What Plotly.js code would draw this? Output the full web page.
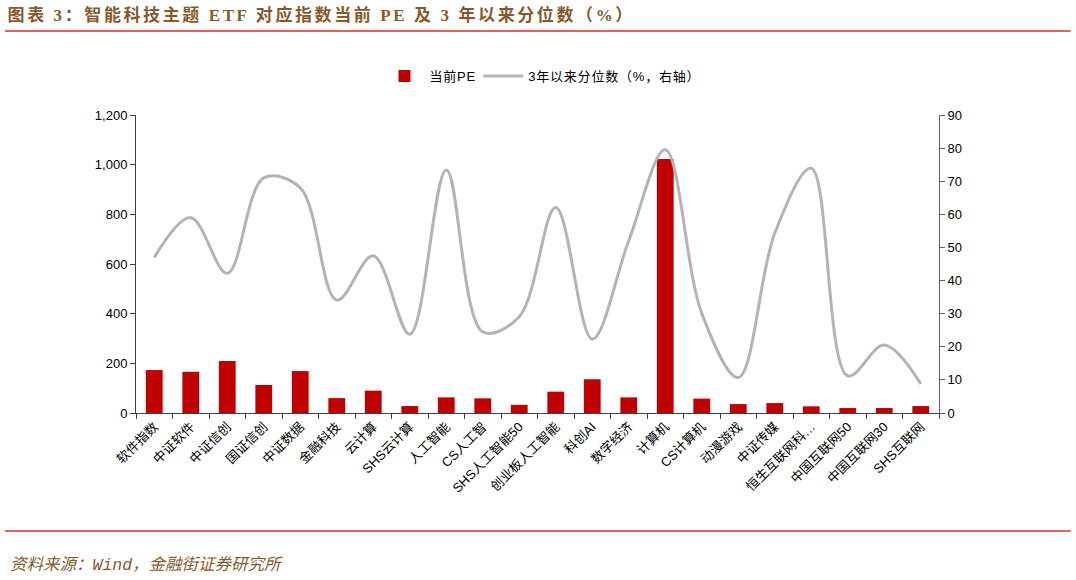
<!DOCTYPE html>
<html>
<head>
<meta charset="utf-8">
<script src="https://cdn.plot.ly/plotly-3.0.1.min.js"></script>
<style>
html,body{margin:0;padding:0;background:#fff;}
#chart{width:1076px;height:580px;}
#chart .gtitle{letter-spacing:2.6px;}
#chart .legendtext{letter-spacing:0.8px;}
</style>
</head>
<body>
<div id="chart"></div>
<script>
const categories = ["软件指数","中证软件","中证信创","国证信创","中证数据","金融科技","云计算","SHS云计算","人工智能","CS人工智","SHS人工智能50","创业板人工智能","科创AI","数字经济","计算机","CS计算机","动漫游戏","中证传媒","恒生互联网科…","中国互联网50","中国互联网30","SHS互联网"];
const pe = [173,166,209,113,169,60,90,28,63,59,33,86,136,63,1023,58,36,40,27,20,20,28];
const pct3y = [47.0,59.0,42.2,71.0,68.0,34.1,47.5,23.8,73.4,24.5,29.1,62.1,22.3,52.0,79.5,30.1,10.7,54.3,73.9,11.2,20.5,8.8];

const cjkSans = '"Liberation Sans", Arial, "Noto Sans CJK SC", sans-serif';
const brown = '#86592d';
const red = '#c00000';

const traces = [
  {type:'bar', name:'当前PE', x:categories, y:pe, marker:{color:red}, width:0.46, yaxis:'y'},
  {type:'scatter', mode:'lines', name:'3年以来分位数（%，右轴）', x:categories, y:pct3y, yaxis:'y2',
   line:{color:'#b4b4b4', width:3, shape:'spline', smoothing:1}}
];

const layout = {
  width:1076, height:580,
  paper_bgcolor:'#fff', plot_bgcolor:'#fff',
  margin:{l:136, r:137, t:115, b:167},
  font:{family:cjkSans, size:13, color:'#000'},
  title:{text:'<b>图表 3：智能科技主题 ETF 对应指数当前 PE 及 3 年以来分位数（%）</b>',
    x:0.007, xanchor:'left', xref:'container', y:0.974, yanchor:'middle', yref:'container',
    font:{family:'"Liberation Serif", "Noto Sans CJK SC", serif', size:17, color:brown}},
  showlegend:true,
  legend:{orientation:'h', x:0.5, xanchor:'center', y:1.131, yanchor:'middle',
    font:{family:cjkSans, size:13, color:'#000'}, itemwidth:40, traceorder:'normal'},
  bargap:0.54,
  xaxis:{type:'category', showline:true, linecolor:'#404040', linewidth:1,
    ticks:'outside', ticklen:5, tickcolor:'#404040', tickson:'boundaries',
    tickangle:-45, tickfont:{family:cjkSans, size:13, color:'#000'}, showgrid:false, zeroline:false},
  yaxis:{range:[0,1200], dtick:200, tickformat:',', showline:true, linecolor:'#404040', linewidth:1,
    ticks:'outside', ticklen:5, tickcolor:'#404040', showgrid:false, zeroline:false,
    tickfont:{family:cjkSans, size:13, color:'#000'}},
  yaxis2:{range:[0,90], dtick:10, overlaying:'y', side:'right', showline:true, linecolor:'#606060', linewidth:1,
    ticks:'outside', ticklen:5, tickcolor:'#606060', showgrid:false, zeroline:false,
    tickfont:{family:cjkSans, size:13, color:'#000'}},
  shapes:[
    {type:'line', xref:'paper', yref:'paper', x0:-0.163, x1:1.164, y0:1.282, y1:1.282, line:{color:'#d03030', width:1.5}},
    {type:'line', xref:'paper', yref:'paper', x0:-0.163, x1:1.164, y0:-0.396, y1:-0.396, line:{color:'#d03030', width:1.5}}
  ],
  annotations:[
    {text:'<i>资料来源：Wind，金融街证券研究所</i>', xref:'paper', yref:'paper', x:-0.159, y:-0.51,
     xanchor:'left', yanchor:'middle', showarrow:false,
     font:{family:'"Liberation Mono", "Noto Sans CJK SC", monospace', size:16.5, color:brown}}
  ]
};

Plotly.newPlot('chart', traces, layout, {displayModeBar:false, staticPlot:true});
</script>
</body>
</html>
